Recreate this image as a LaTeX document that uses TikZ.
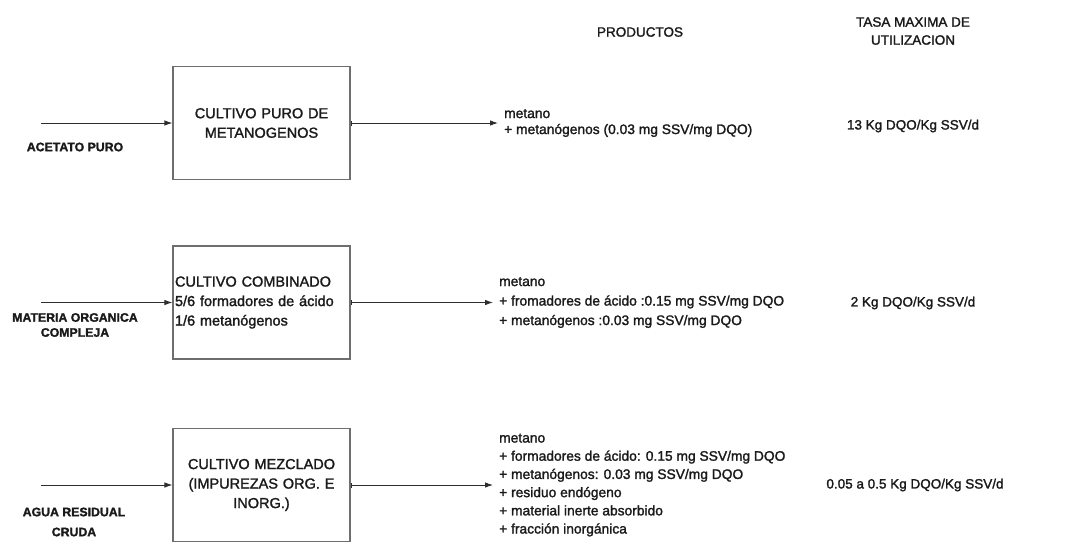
\documentclass[tikz,border=0pt]{standalone}
\usepackage{fontspec}
\setmainfont{Liberation Sans}
\newfontfamily\heavy{Liberation Sans}[FakeBold=1.6]
\newfontfamily\heavybold{Liberation Sans Bold}[FakeBold=1.6]
\usetikzlibrary{arrows.meta}
\definecolor{txt}{HTML}{1A1A1A}
\definecolor{boxgray}{HTML}{6E6E6E}
\definecolor{arrgray}{HTML}{2E2E2E}
\begin{document}
\begin{tikzpicture}[x=1pt,y=-1pt,
  box/.style={draw=boxgray, line width=1.1pt, minimum height=113pt, text width=173pt,
    inner xsep=2pt, inner ysep=0pt, font=\heavy\fontsize{14.5}{19.5}\selectfont, text=txt},
  inlab/.style={font=\heavybold\fontsize{12.3}{15}\selectfont, align=center, text=txt, inner sep=0pt},
  prod/.style={anchor=west, inner xsep=0pt, inner ysep=0pt, align=left, text=txt},
  rate/.style={font=\heavy\fontsize{13.5}{18}\selectfont, text=txt, inner sep=0pt},
  head/.style={font=\heavy\fontsize{13.5}{18}\selectfont, align=center, text=txt, inner sep=0pt},
  arr/.style={draw=arrgray, line width=0.9pt, -{Latex[length=8pt,width=5.5pt]}},
  outarr/.style={draw=arrgray, line width=0.9pt, {Bar[width=5pt,line width=0.8pt]}-{Latex[length=8pt,width=5.5pt]}, shorten >=6pt}
]
\useasboundingbox (0,0) rectangle (1086,541);
\clip (0,0) rectangle (1086,541);
\fill[white] (0,0) rectangle (1086,541);

% headers
\node[head] (hprod) at (640,32) {PRODUCTOS};
\node[head] (hrate) at (913,31) {TASA MAXIMA DE\\UTILIZACION};

% row 1
\node[box, align=center] (b1) at (261.5,123) {CULTIVO PURO DE\\METANOGENOS};
\coordinate (s1) at (41,123);
\node[inlab] (l1) at (75,147) {ACETATO PURO};
\node[prod, font=\heavy\fontsize{13.8}{16}\selectfont] (p1) at (504,123) {metano\\+ metanógenos (0.03 mg SSV/mg DQO)};
\node[rate] (r1) at (913,126) {13 Kg DQO/Kg SSV/d};
\draw[arr] (s1) -- (b1.west);
\draw[outarr] (b1.east) -- (p1.west);

% row 2
\node[box, align=left] (b2) at (261.5,302.5) {CULTIVO COMBINADO\\5/6 formadores de ácido\\1/6 metanógenos};
\coordinate (s2) at (41,302.5);
\node[inlab] (l2) at (75,325) {MATERIA ORGANICA\\COMPLEJA};
\node[prod, font=\heavy\fontsize{13.8}{19.5}\selectfont] (p2) at (499,302.5) {metano\\+ fromadores de ácido :0.15 mg SSV/mg DQO\\+ metanógenos :0.03 mg SSV/mg DQO};
\node[rate] (r2) at (913,303) {2 Kg DQO/Kg SSV/d};
\draw[arr] (s2) -- (b2.west);
\draw[outarr] (b2.east) -- (p2.west);

% row 3
\node[box, align=center] (b3) at (261.5,485) {CULTIVO MEZCLADO\\(IMPUREZAS ORG. E\\INORG.)};
\coordinate (s3) at (41,485);
\node[inlab, font=\heavybold\fontsize{12.3}{20}\selectfont] (l3) at (74,522) {AGUA RESIDUAL\\CRUDA};
\node[prod, font=\heavy\fontsize{13.8}{18.2}\selectfont] (p3) at (499,485) {metano\\+ formadores de ácido: 0.15 mg SSV/mg DQO\\+ metanógenos: 0.03 mg SSV/mg DQO\\+ residuo endógeno\\+ material inerte absorbido\\+ fracción inorgánica};
\node[rate] (r3) at (915,485) {0.05 a 0.5 Kg DQO/Kg SSV/d};
\draw[arr] (s3) -- (b3.west);
\draw[outarr] (b3.east) -- (p3.west);
\end{tikzpicture}
\end{document}
